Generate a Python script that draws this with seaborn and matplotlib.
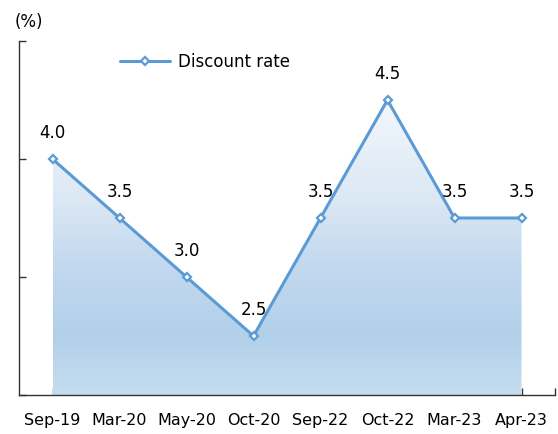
import numpy as np
import pandas as pd
import matplotlib
matplotlib.use("Agg")
import matplotlib.pyplot as plt
import seaborn as sns
from matplotlib.colors import LinearSegmentedColormap

# datos del grafico
periods = ["Sep-19", "Mar-20", "May-20", "Oct-20", "Sep-22", "Oct-22", "Mar-23", "Apr-23"]
discount_rate = [4.0, 3.5, 3.0, 2.5, 3.5, 4.5, 3.5, 3.5]

df = pd.DataFrame({"period": periods, "rate": discount_rate})
df["x"] = np.arange(len(df))

sns.set_theme(style="white")
plt.rcParams["font.family"] = ["DejaVu Sans"]
plt.rcParams["text.color"] = "black"

line_color = "#5b9bd5"

fig = plt.figure(figsize=(5.58, 4.35), dpi=100)
ax = fig.add_axes([19 / 558, 39 / 435, 536 / 558, 354 / 435])

ymin, ymax = 2.0, 5.0

# relleno con gradiente bajo la linea (claro arriba, mas azul abajo)
poly = ax.fill_between(df["x"], df["rate"], ymin, color="none", lw=0)
cmap = LinearSegmentedColormap.from_list(
    "grad", [(0.0, "#c6ddf0"), (0.2, "#b2d0ea"), (0.45, "#c3d9ef"),
             (0.65, "#dae7f4"), (1.0, "#f3f7fc")])
grad = np.linspace(0, 1, 256).reshape(-1, 1)
img = ax.imshow(grad, cmap=cmap, aspect="auto",
                extent=[0, len(df) - 1, ymin, 4.5], origin="lower", zorder=1)
img.set_clip_path(poly.get_paths()[0], transform=ax.transData)

sns.lineplot(data=df, x="x", y="rate", ax=ax, color=line_color, lw=2.2,
             marker="D", markersize=4.5, markerfacecolor="white",
             markeredgecolor=line_color, markeredgewidth=1.6,
             label="Discount rate", zorder=3)

for xi, v in zip(df["x"], df["rate"]):
    ax.annotate(f"{v:.1f}", (xi, v), xytext=(0, 13), textcoords="offset points",
                ha="center", va="bottom", fontsize=12, color="black")

ax.set_xlim(-0.5, len(df) - 0.5)
ax.set_ylim(ymin, ymax)
ax.set_xticks(list(df["x"]) + [len(df) - 0.5])
ax.set_xticklabels(periods + [""], fontsize=11.5, color="black")
ax.set_yticks([2, 3, 4, 5])
ax.set_yticklabels([])
ax.set_xlabel("")
ax.set_ylabel("")
ax.tick_params(axis="x", direction="in", length=5, width=1, color="#333333", pad=12, bottom=True)
ax.tick_params(axis="y", direction="in", length=5, width=1, color="#333333", left=True)

for s in ["top", "right"]:
    ax.spines[s].set_visible(False)
for s in ["left", "bottom"]:
    ax.spines[s].set_color("#333333")
    ax.spines[s].set_linewidth(1)

fig.text(15 / 558, 1 - 22 / 435, "(%)", fontsize=12, va="center", ha="left", color="black")

leg = ax.legend(loc="upper left", bbox_to_anchor=(0.16, 1.01), frameon=False,
                fontsize=12, handlelength=3.0, handletextpad=0.5)
for t in leg.get_texts():
    t.set_color("black")

fig.savefig("out.png", dpi=100)
